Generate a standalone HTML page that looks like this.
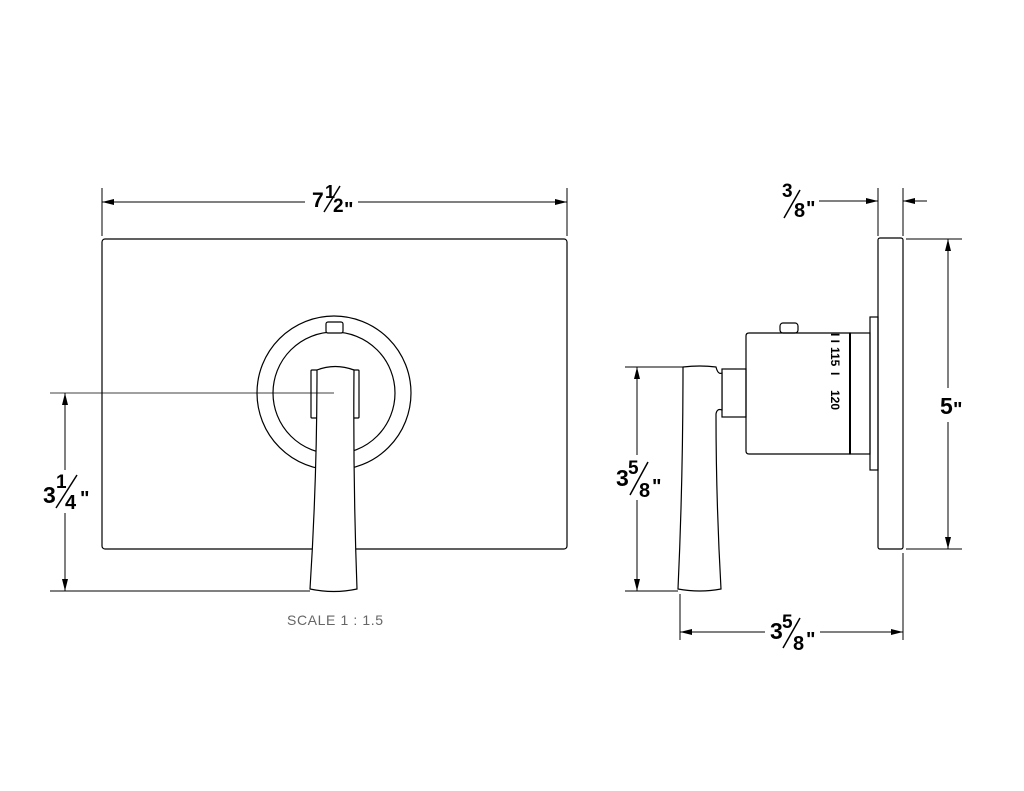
<!DOCTYPE html>
<html><head><style>html,body{margin:0;padding:0;background:#fff}svg{display:block}</style></head>
<body>
<svg width="1024" height="791" viewBox="0 0 1024 791" xmlns="http://www.w3.org/2000/svg">
<defs>
<marker id="a" viewBox="0 0 12 6" refX="12" refY="3" markerWidth="12" markerHeight="6" markerUnits="userSpaceOnUse" orient="auto"><path d="M0,0 L12,3 L0,6 Z" fill="#000"/></marker>
</defs>
<g fill="none" stroke="#000" stroke-width="1.2">
<rect x="102" y="239" width="465" height="310" rx="3"/>
<circle cx="334" cy="393" r="77"/>
<circle cx="334" cy="393" r="61"/>
<rect x="326" y="322" width="17" height="11" rx="2" fill="#fff"/>
<rect x="311" y="370" width="48" height="48" rx="1"/>
<path d="M317,370 Q335,363 354,370 Q353,480 357,589 Q334,594 310,589 Q317,480 317,370 Z" fill="#fff"/>
<line x1="102" y1="188" x2="102" y2="236" stroke-width="1"/>
<line x1="567" y1="188" x2="567" y2="236" stroke-width="1"/>
<line x1="305" y1="202" x2="102" y2="202" stroke-width="1" marker-end="url(#a)"/>
<line x1="358" y1="202" x2="567" y2="202" stroke-width="1" marker-end="url(#a)"/>
<line x1="50" y1="393" x2="334" y2="393" stroke-width="0.8"/>
<line x1="50" y1="591" x2="310" y2="591" stroke-width="1"/>
<line x1="65" y1="470" x2="65" y2="393" stroke-width="1" marker-end="url(#a)"/>
<line x1="65" y1="513" x2="65" y2="591" stroke-width="1" marker-end="url(#a)"/>
<rect x="878" y="238" width="25" height="311" rx="2"/>
<rect x="870" y="317" width="8" height="153"/>
<rect x="850" y="333" width="20" height="121"/>
<line x1="850" y1="333" x2="850" y2="454" stroke-width="2"/>
<path d="M746,336 Q746,333 749,333 L850,333 L850,454 L749,454 Q746,454 746,451 Z"/>
<rect x="780" y="323" width="18" height="10" rx="3"/>
<rect x="722" y="369" width="24" height="48"/>
<path d="M683,367 Q700,365 716,367 Q718,375 722,373 L722,410 Q717,408 716,414 Q716,500 721,589 Q700,593 678,589 Q683,480 683,367 Z" fill="#fff"/>
<line x1="878" y1="188" x2="878" y2="236" stroke-width="1"/>
<line x1="903" y1="188" x2="903" y2="236" stroke-width="1"/>
<line x1="819" y1="201" x2="878" y2="201" stroke-width="1" marker-end="url(#a)"/>
<line x1="927" y1="201" x2="903" y2="201" stroke-width="1" marker-end="url(#a)"/>
<line x1="906" y1="239" x2="962" y2="239" stroke-width="1"/>
<line x1="906" y1="549" x2="962" y2="549" stroke-width="1"/>
<line x1="948" y1="388" x2="948" y2="239" stroke-width="1" marker-end="url(#a)"/>
<line x1="948" y1="422" x2="948" y2="549" stroke-width="1" marker-end="url(#a)"/>
<line x1="625" y1="367" x2="683" y2="367" stroke-width="1"/>
<line x1="625" y1="591" x2="678" y2="591" stroke-width="1"/>
<line x1="637" y1="455" x2="637" y2="367" stroke-width="1" marker-end="url(#a)"/>
<line x1="637" y1="500" x2="637" y2="591" stroke-width="1" marker-end="url(#a)"/>
<line x1="680" y1="594" x2="680" y2="640" stroke-width="1"/>
<line x1="903" y1="553" x2="903" y2="640" stroke-width="1"/>
<line x1="765" y1="632" x2="680" y2="632" stroke-width="1" marker-end="url(#a)"/>
<line x1="820" y1="632" x2="903" y2="632" stroke-width="1" marker-end="url(#a)"/>
<line x1="324" y1="212" x2="340" y2="186" stroke-width="1.5"/>
<line x1="56" y1="508" x2="77" y2="475" stroke-width="1.5"/>
<line x1="784" y1="218" x2="800" y2="190" stroke-width="1.5"/>
<line x1="630" y1="495" x2="648" y2="462" stroke-width="1.5"/>
<line x1="783" y1="648" x2="800" y2="618" stroke-width="1.5"/>
</g>
<g font-family="Liberation Sans, sans-serif" font-weight="bold" fill="#000">
<text x="312" y="207" font-size="21">7</text>
<text x="325" y="198" font-size="18">1</text>
<text x="333" y="212" font-size="19">2</text>
<text x="344" y="216" font-size="20">"</text>
<text x="43" y="503" font-size="23">3</text>
<text x="56" y="488" font-size="19">1</text>
<text x="65" y="509" font-size="20">4</text>
<text x="80" y="505" font-size="20">"</text>
<text x="782" y="197" font-size="19">3</text>
<text x="794" y="217" font-size="20">8</text>
<text x="806" y="215" font-size="20">"</text>
<text x="940" y="414" font-size="23">5</text>
<text x="953" y="416" font-size="20">"</text>
<text x="616" y="486" font-size="23">3</text>
<text x="628" y="474" font-size="19">5</text>
<text x="639" y="497" font-size="20">8</text>
<text x="652" y="493" font-size="20">"</text>
<text x="770" y="639" font-size="23">3</text>
<text x="782" y="628" font-size="19">5</text>
<text x="793" y="650" font-size="20">8</text>
<text x="806" y="646" font-size="20">"</text>
<g font-size="12" transform="translate(831,333) rotate(90)">
<text x="0" y="0">I I</text>
<text x="14" y="0">115</text>
<text x="39" y="0">I</text>
<text x="57" y="0">120</text>
</g>
</g>
<text x="287" y="625" font-family="Liberation Sans, sans-serif" font-size="14" fill="#666" textLength="96">SCALE 1 : 1.5</text>
</svg>
</body></html>
